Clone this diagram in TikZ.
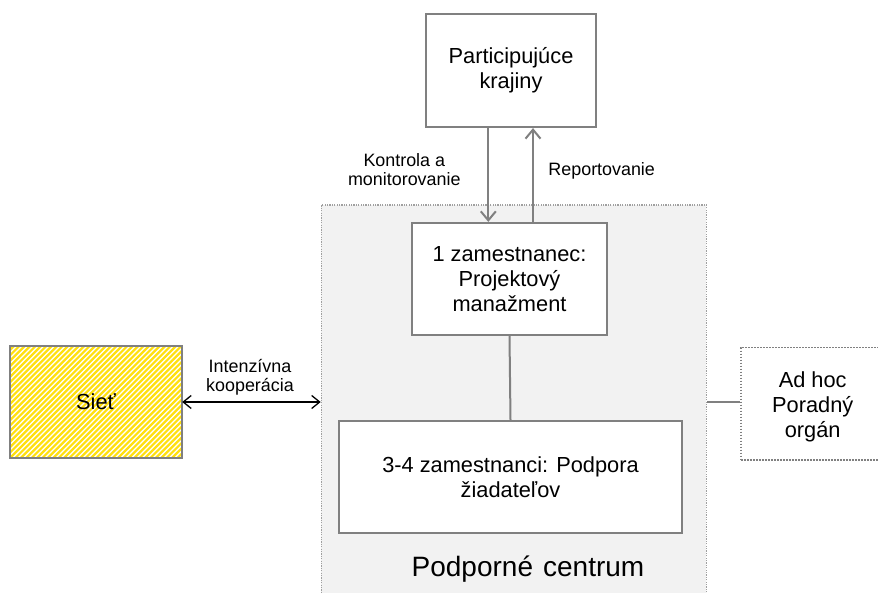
\documentclass[tikz,border=0pt]{standalone}
\usepackage{fontspec}
\setmainfont{Liberation Sans}
\usetikzlibrary{arrows.meta,calc}
\definecolor{bordergray}{HTML}{808080}
\definecolor{dotgray}{HTML}{A0A0A0}
\definecolor{regionfill}{HTML}{F2F2F2}
\definecolor{hatchyellow}{HTML}{FFE010}
\tikzset{
  boxfont/.style={font=\fontsize{21.8}{25}\selectfont},
  labfont/.style={font=\fontsize{17.9}{18.8}\selectfont},
  solidbox/.style={draw=bordergray, line width=2.2pt, fill=white, inner sep=0pt, align=center, boxfont},
  dotbox/.style={draw=bordergray, dash pattern=on 1.6pt off 1.4pt, line width=1.8pt, fill=white, inner sep=0pt, align=center, boxfont},
  grayarrow/.style={draw=bordergray, line width=2pt, -{Straight Barb[length=9pt,width=15pt,line width=2pt]}},
  grayline/.style={draw=bordergray, line width=2pt},
  blackarrow/.style={draw=black, line width=1.3pt, {Straight Barb[length=8pt,width=13pt,line width=1.3pt]}-{Straight Barb[length=8pt,width=13pt,line width=1.3pt]}},
}
\begin{document}
\begin{tikzpicture}[x=1pt,y=-1pt]
\useasboundingbox (0,0) rectangle (878,593);
\clip (0,0) rectangle (878,593);
\fill[white] (0,0) rectangle (878,593);
% support centre region
\node[draw=dotgray, dash pattern=on 1.2pt off 1.2pt, line width=1.3pt, fill=regionfill, minimum width=385pt, minimum height=420pt, inner sep=0pt, anchor=north west] (region) at (320.7,204.3) {};
\node[font=\fontsize{28}{30}\selectfont, anchor=base] (regionlabel) at (528,576.7) {Podporné\hspace{0.36em}centrum};
% top box
\node[solidbox, minimum width=170pt, minimum height=113pt] (part) at (511,70.5) {Participujúce\\krajiny};
% project management
\node[solidbox, minimum width=195pt, minimum height=112pt] (zam) at (509.5,279) {1 zamestnanec:\\Projektový\\manažment};
% applicant support
\node[solidbox, minimum width=343pt, minimum height=112pt] (sup) at (510.5,477) {3-4 zamestnanci: Podpora\\žiadateľov};
% network
\node[minimum width=172pt, minimum height=112pt, inner sep=0pt] (siet) at (96,402) {};
\begin{scope}
  \clip (siet.south west) rectangle (siet.north east);
  \fill[white] (siet.south west) rectangle (siet.north east);
  \foreach \k in {-30,...,60} {
    \draw[hatchyellow, line width=2.2pt] ($(siet.south west)+(\k*5.4,0)$) -- ++(130,-130);
  }
\end{scope}
\draw[bordergray, line width=2.2pt] (siet.south west) rectangle (siet.north east);
\node[boxfont] (sietlabel) at (siet.center) {Sieť};
% ad hoc
\node[dotbox, minimum width=160pt, minimum height=112pt, anchor=north west] (adhoc) at (740,346.7) {};
\node[boxfont, align=center] (adhoclabel) at (812.7,406.5) {Ad hoc\\Poradný\\orgán};
% arrows
\coordinate (xa) at (488.3,0);
\coordinate (xb) at (533,0);
\draw[grayarrow] (part.south -| xa) -- (zam.north -| xa);
\draw[grayarrow] (zam.north -| xb) -- (part.south -| xb);
\draw[grayline] (zam.south) -- (sup.north);
\draw[blackarrow] (siet.east) -- (siet.east -| region.west);
\draw[grayline] (adhoc.west |- 0,401.7) -- (region.east |- 0,401.7);
% labels
\node[labfont, align=center] (kontrola) at (404.3,169.5) {Kontrola a\\monitorovanie};
\node[labfont] (report) at (601.7,170.7) {Reportovanie};
\node[labfont, align=center] (koop) at (250,377.3) {Intenzívna\\kooperácia};
\end{tikzpicture}
\end{document}
